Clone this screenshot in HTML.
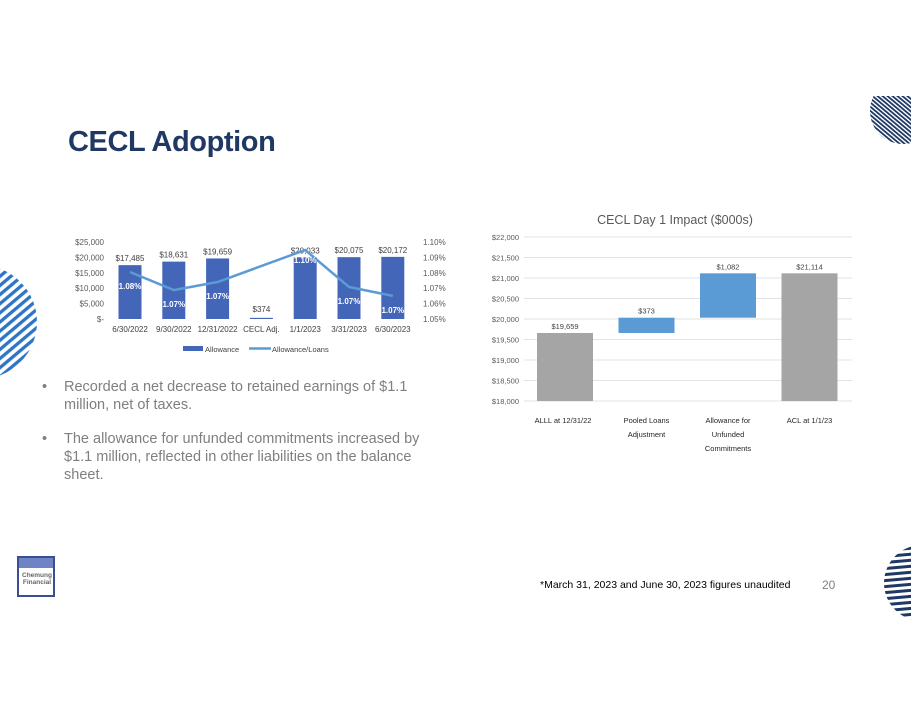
<!DOCTYPE html>
<html><head><meta charset="utf-8">
<style>
body{margin:0;background:#fff;width:911px;height:704px;overflow:hidden;position:relative;font-family:"Liberation Sans",sans-serif}
.abs{position:absolute}
</style></head>
<body>
<svg class="abs" style="left:0;top:0" width="911" height="704">
  <defs>
    <clipPath id="c1"><circle cx="903" cy="111" r="33"/></clipPath>
    <clipPath id="c2"><circle cx="-20" cy="322" r="57"/></clipPath>
    <clipPath id="c3"><circle cx="922" cy="583" r="38"/></clipPath>
    <pattern id="p1" width="3.2" height="3.2" patternUnits="userSpaceOnUse" patternTransform="rotate(-50)">
      <rect x="0" y="0" width="1.8" height="3.2" fill="#1f3864"/>
    </pattern>
    <pattern id="p2" width="7" height="7" patternUnits="userSpaceOnUse" patternTransform="rotate(-40)">
      <rect x="0" y="0" width="7" height="3.3" fill="#2e75c6"/>
    </pattern>
    <pattern id="p3" width="6" height="6" patternUnits="userSpaceOnUse" patternTransform="rotate(-5)">
      <rect x="0" y="0" width="6" height="3" fill="#1f3864"/>
    </pattern>
  </defs>
  <rect clip-path="url(#c1)" x="860" y="96" width="51" height="55" fill="url(#p1)"/>
  <rect clip-path="url(#c2)" x="0" y="260" width="60" height="125" fill="url(#p2)"/>
  <rect clip-path="url(#c3)" x="880" y="540" width="31" height="90" fill="url(#p3)"/>
</svg>

<div class="abs" style="left:68px;top:126px;font-size:29px;font-weight:bold;color:#1f3864;letter-spacing:-0.4px">CECL Adoption</div>

<div class="abs" style="left:42px;top:378px;width:400px;font-size:14.5px;color:#7f7f7f;line-height:18px">
  <div style="position:relative;padding-left:22px">
    <span style="position:absolute;left:0">•</span>Recorded a net decrease to retained earnings of $1.1 million, net of taxes.</div>
  <div style="position:relative;padding-left:22px;margin-top:16px">
    <span style="position:absolute;left:0">•</span>The allowance for unfunded commitments increased by $1.1 million, reflected in other liabilities on the balance sheet.</div>
</div>

<div class="abs" style="left:17px;top:556px;width:38px;height:41px;background:#fff;border:2px solid #3a4f8f;box-sizing:border-box;overflow:hidden">
  <div style="position:absolute;left:0;top:0;width:100%;height:10px;background:#6f84c4"></div>
  <div style="position:absolute;left:2px;top:14px;font-size:6.5px;font-weight:bold;color:#666;line-height:7px;text-align:center;width:32px">Chemung Financial</div>
</div>

<div class="abs" style="left:540px;top:579px;font-size:10.5px;color:#000">*March 31, 2023 and June 30, 2023 figures unaudited</div>
<div class="abs" style="left:822px;top:578px;font-size:12px;color:#7f7f7f">20</div>

<svg class="abs" style="left:0;top:0" width="911" height="704" id="chart1" font-family="Liberation Sans, sans-serif"></svg>
<svg class="abs" style="left:0;top:0" width="911" height="704" id="chart2" font-family="Liberation Sans, sans-serif"></svg>

<script>
const cats1 = ["6/30/2022","9/30/2022","12/31/2022","CECL Adj.","1/1/2023","3/31/2023","6/30/2023"];
const allowance = [17485,18631,19659,374,20033,20075,20172];
const allowanceLabels = ["$17,485","$18,631","$19,659","$374","$20,033","$20,075","$20,172"];
const ratio = [1.0805,1.0688,1.074,null,1.0948,1.0708,1.065];
const ratioLabels = ["1.08%","1.07%","1.07%","","1.10%","1.07%","1.07%"];
const leftTicks = [0,5000,10000,15000,20000,25000];
const leftTickLabels = ["$-","$5,000","$10,000","$15,000","$20,000","$25,000"];
const rightTicks = [1.05,1.06,1.07,1.08,1.09,1.10];
const rightTickLabels = ["1.05%","1.06%","1.07%","1.08%","1.09%","1.10%"];

const cats2 = [["ALLL at 12/31/22"],["Pooled Loans","Adjustment"],["Allowance for","Unfunded","Commitments"],["ACL at 1/1/23"]];
const wfStart = [18000,19659,20032,21114];
const wfEnd = [19659,20032,21114,18000];
const wfLabels = ["$19,659","$373","$1,082","$21,114"];
const wfColors = ["#a5a5a5","#5b9bd5","#5b9bd5","#a5a5a5"];
const ticks2 = [18000,18500,19000,19500,20000,20500,21000,21500,22000];
const tickLabels2 = ["$18,000","$18,500","$19,000","$19,500","$20,000","$20,500","$21,000","$21,500","$22,000"];

const NS="http://www.w3.org/2000/svg";
function mk(p,tag,attrs,txt){const e=document.createElementNS(NS,tag);for(const k in attrs)e.setAttribute(k,attrs[k]);if(txt!==undefined)e.textContent=txt;p.appendChild(e);return e;}

// Chart 1
const s1=document.getElementById('chart1');
const x1=i=>130+i*43.8;
const yL=v=>319-(v/25000)*77;
const yR=v=>319-((v-1.05)/0.05)*77;
leftTicks.forEach((t,i)=>{
  const e=mk(s1,'text',{x:104,y:yL(t)+3,'text-anchor':'end','font-size':8,fill:'#595959'},leftTickLabels[i]);
  
  
});
rightTicks.forEach((t,i)=>{
  const e=mk(s1,'text',{x:423,y:yR(t)+3,'font-size':8,fill:'#595959'},rightTickLabels[i]);
  
  
});
cats1.forEach((c,i)=>{
  const e=mk(s1,'text',{x:x1(i),y:332,'text-anchor':'middle','font-size':8,fill:'#404040'},c);
  
  
});
allowance.forEach((v,i)=>{
  const y=yL(v);
  const r=mk(s1,'rect',{x:x1(i)-11.5,y:y,width:23,height:Math.max(1,319-y),fill:'#4466b8'});
  
  
  const t=mk(s1,'text',{x:x1(i),y:v<2000?312:y-4,'text-anchor':'middle','font-size':8,fill:'#404040'},allowanceLabels[i]);
  
  
});
let pts=[];ratio.forEach((v,i)=>{if(v!==null)pts.push(x1(i)+','+yR(v));});
const pl=mk(s1,'polyline',{points:pts.join(' '),fill:'none',stroke:'#5b9bd5','stroke-width':2.5});


ratio.forEach((v,i)=>{
  if(v===null)return;
  const t=mk(s1,'text',{x:x1(i),y:yR(v)+17,'text-anchor':'middle','font-size':8,'font-weight':'bold',fill:'#fff'},ratioLabels[i]);
  if(i===4)t.setAttribute('y',yR(v)+13);
  
  
});
const lr=mk(s1,'rect',{x:183,y:346,width:20,height:5,fill:'#4466b8'});


const lt=mk(s1,'text',{x:205,y:352,'font-size':7.5,fill:'#404040'},'Allowance');


const ll=mk(s1,'line',{x1:249,y1:348.5,x2:271,y2:348.5,stroke:'#5b9bd5','stroke-width':2.5});


const lt2=mk(s1,'text',{x:272,y:352,'font-size':7.5,fill:'#404040'},'Allowance/Loans');



// Chart 2
const s2=document.getElementById('chart2');
const x2=i=>565+i*81.5;
const y2=v=>401-((v-18000)/4000)*164;
const ttl=mk(s2,'text',{x:675,y:224,'text-anchor':'middle','font-size':12.5,fill:'#595959'},'CECL Day 1 Impact ($000s)');


ticks2.forEach((t,i)=>{
  const g=mk(s2,'line',{x1:524,x2:852,y1:y2(t),y2:y2(t),stroke:'#e3e3e3','stroke-width':1});
  
  
  const e=mk(s2,'text',{x:519,y:y2(t)+3,'text-anchor':'end','font-size':7.5,fill:'#595959'},tickLabels2[i]);
  
  
});
wfStart.forEach((s,i)=>{
  const a=Math.max(s,wfEnd[i]),b=Math.min(s,wfEnd[i]);
  const r=mk(s2,'rect',{x:x2(i)-28,y:y2(a),width:56,height:y2(b)-y2(a),fill:wfColors[i]});
  
  
  const t=mk(s2,'text',{x:x2(i),y:y2(a)-4,'text-anchor':'middle','font-size':7.5,fill:'#404040'},wfLabels[i]);
  
  
});
cats2.forEach((lines,i)=>{
  lines.forEach((ln,j)=>{
    const t=mk(s2,'text',{x:x2(i)+(i===0?-2:0),y:423+j*14,'text-anchor':'middle','font-size':7.5,fill:'#262626'},ln);
    
    
  });
});
</script>
</body></html>
